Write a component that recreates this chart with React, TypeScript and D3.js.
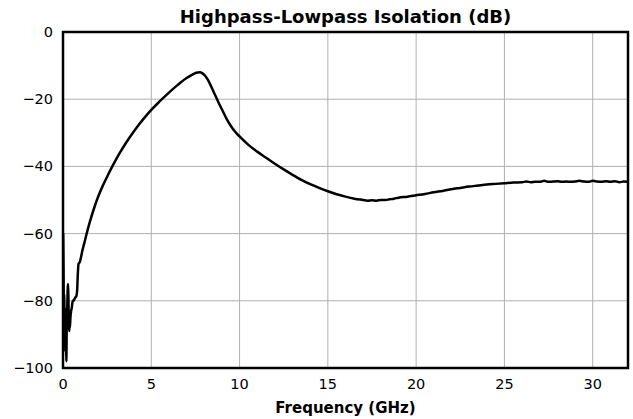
import React from "react";
import * as d3 from "d3";

const freqGHz: number[] = [
  0.01, 0.03, 0.05, 0.07, 0.09, 0.11, 0.13, 0.15, 0.17, 0.19, 0.21, 0.23, 0.25, 0.27, 0.29, 0.31, 0.33, 0.35, 0.37, 0.39,
  0.42, 0.46, 0.5, 0.55, 0.6, 0.65, 0.7, 0.76, 0.8, 0.84, 0.88, 0.95, 1.0, 1.1, 1.2, 1.34, 1.5,
  1.75, 2.0, 2.25, 2.5, 2.75, 3.0, 3.25, 3.5, 3.75, 4.0, 4.25, 4.5, 4.75, 5.0, 5.5, 6.0, 6.5, 7.0, 7.3, 7.55, 7.75, 7.9,
  8.05, 8.2, 8.4, 8.6, 8.8, 9.0, 9.25, 9.5, 9.75, 10.0, 10.5, 11.0, 11.5, 12.0, 12.5, 13.0, 13.5, 14.0, 14.5, 15.0,
  15.5, 16.0, 16.5, 17.0, 17.25, 17.5, 17.75, 18.0, 18.25, 18.5, 18.75, 19.0, 19.5, 20.0, 20.5, 21.0, 21.5, 22.0,
  22.5, 23.0, 23.5, 24.0, 24.5, 25.0, 25.5, 26.0, 26.25, 26.5, 26.75, 27.0, 27.25, 27.5, 27.75, 28.0, 28.25, 28.5,
  28.75, 29.0, 29.25, 29.5, 29.75, 30.0, 30.25, 30.5, 30.75, 31.0, 31.25, 31.5, 31.75, 32.0,
];

const isolationDb: number[] = [
  -60, -70, -84, -78, -91, -82, -95, -85, -93, -98, -88, -84, -80, -76, -75, -80, -86, -89, -87, -88,
  -85, -83, -82, -80, -80, -79.5, -79, -78.5, -77, -72, -69, -68.5, -67.5, -65, -63, -60, -56.9,
  -52.6, -48.9, -45.8, -43.06, -40.46, -38.01, -35.71, -33.56, -31.56, -29.66, -27.88, -26.23, -24.66, -23.18, -20.53, -18.03, -15.73, -13.7, -12.75, -12.15, -12.0, -12.3,
  -13.0, -14.2, -16.3, -18.6, -20.9, -23.0, -25.7, -27.9, -29.7, -31.1, -33.6, -35.6, -37.4, -39.2, -40.9, -42.5, -44.0, -45.3, -46.4, -47.4,
  -48.3, -49.0, -49.6, -50.0, -50.2, -50.1, -50.2, -50.0, -50.0, -49.8, -49.6, -49.3, -49.0, -48.6, -48.2, -47.7, -47.3, -46.8,
  -46.4, -46.0, -45.7, -45.4, -45.2, -45.0, -44.8, -44.7, -44.5, -44.7, -44.6, -44.6, -44.3, -44.6, -44.5, -44.4, -44.6, -44.5,
  -44.6, -44.5, -44.3, -44.5, -44.6, -44.3, -44.5, -44.6, -44.4, -44.6, -44.4, -44.7, -44.5, -44.6,
];

const xTicks: number[] = [0, 5, 10, 15, 20, 25, 30];
const yTicks: number[] = [0, -20, -40, -60, -80, -100];

const title = "Highpass-Lowpass Isolation (dB)";
const xLabel = "Frequency (GHz)";

const W = 633;
const H = 419;
const left = 63;
const right = 628;
const top = 32;
const bottom = 368;
const font = "DejaVu Sans";

export default function App() {
  const x = d3.scaleLinear().domain([0, 32]).range([left, right]);
  const y = d3.scaleLinear().domain([-100, 0]).range([bottom, top]);
  const pts: [number, number][] = freqGHz.map((f, i) => [f, isolationDb[i]]);
  const line = d3
    .line<[number, number]>()
    .x((d) => x(d[0]))
    .y((d) => y(d[1]))
    .curve(d3.curveMonotoneX);

  return (
    <svg
      width={W}
      height={H}
      style={{ position: "absolute", left: 0, top: 0, background: "#fff" }}
      fontFamily={font}
    >
      <rect x={0} y={0} width={W} height={H} fill="#fff" />
      {xTicks.map((t) => (
        <line key={"gx" + t} x1={x(t)} x2={x(t)} y1={top} y2={bottom} stroke="#b0b0b0" strokeWidth={1} />
      ))}
      {yTicks.map((t) => (
        <line key={"gy" + t} x1={left} x2={right} y1={y(t)} y2={y(t)} stroke="#b0b0b0" strokeWidth={1} />
      ))}
      <defs>
        <clipPath id="plotclip">
          <rect x={left} y={top} width={right - left} height={bottom - top} />
        </clipPath>
      </defs>
      <path
        d={line(pts) || ""}
        fill="none"
        stroke="#000"
        strokeWidth={2.5}
        strokeLinejoin="round"
        clipPath="url(#plotclip)"
      />
      <rect x={left} y={top} width={right - left} height={bottom - top} fill="none" stroke="#000" strokeWidth={2.5} />
      {xTicks.map((t) => (
        <text key={"tx" + t} x={x(t)} y={bottom + 21} textAnchor="middle" fontSize={14.5} fill="#000">
          {t}
        </text>
      ))}
      {yTicks.map((t) => (
        <text key={"ty" + t} x={left - 10} y={y(t) + 5} textAnchor="end" fontSize={14.5} fill="#000">
          {t === 0 ? "0" : "\u2212" + Math.abs(t)}
        </text>
      ))}
      <text x={(left + right) / 2} y={23} textAnchor="middle" fontSize={18} fontWeight="bold" fill="#000">
        {title}
      </text>
      <text x={(left + right) / 2} y={413} textAnchor="middle" fontSize={15} fontWeight="bold" fill="#000">
        {xLabel}
      </text>
    </svg>
  );
}
